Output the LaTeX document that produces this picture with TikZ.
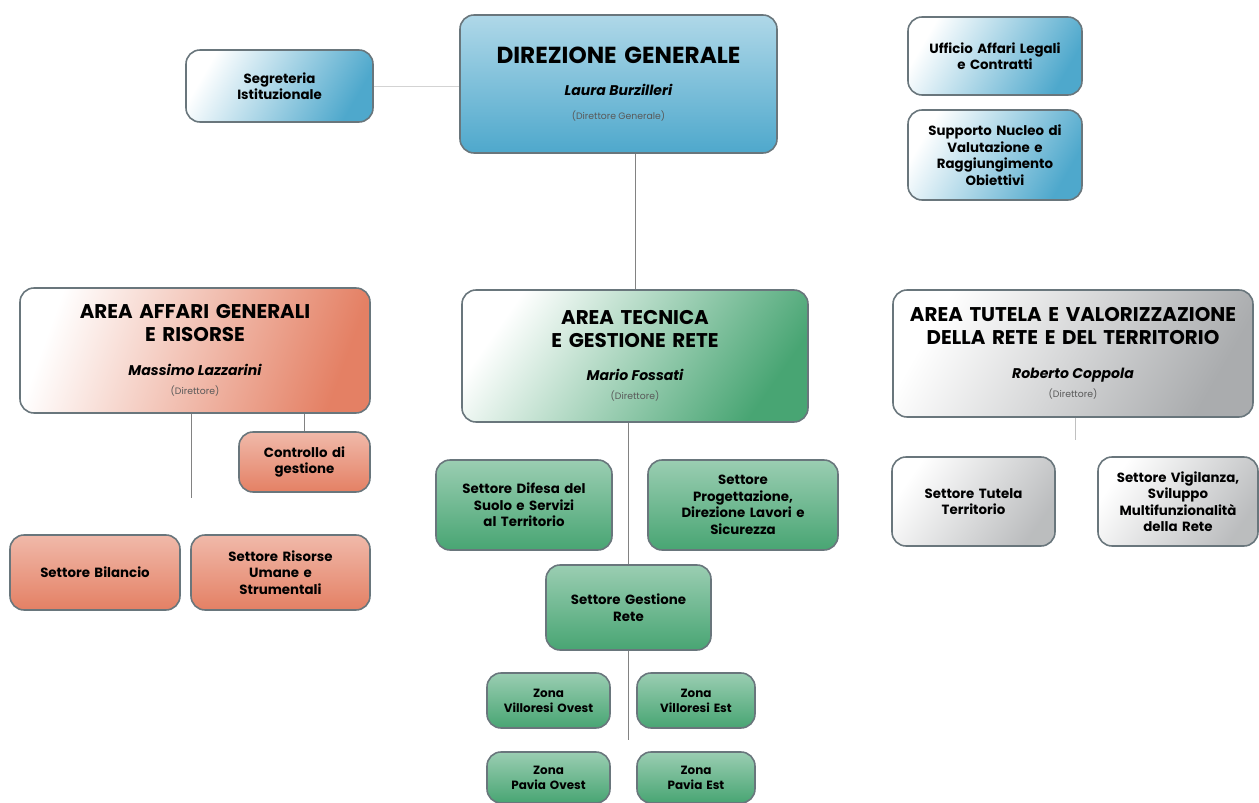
\documentclass[tikz,border=0pt]{standalone}
\usepackage{fontspec}
\setmainfont{Poppins}
\usetikzlibrary{calc}
\usetikzlibrary{positioning}
\definecolor{boxline}{RGB}{105,118,124}
\definecolor{linegray}{RGB}{130,130,130}
\definecolor{dgblue}{RGB}{78,168,204}
\definecolor{aagred}{RGB}{228,128,100}
\definecolor{atgreen}{RGB}{72,165,115}
\definecolor{atgray}{RGB}{170,172,174}
\tikzstyle{box} = [draw=boxline, line width=0.9pt, rounded corners=8pt, align=center, inner sep=2pt, text=black, font=\fontsize{7.6}{9.4}\selectfont\bfseries]
\tikzstyle{areabox} = [box, font=\fontsize{11.3}{13}\selectfont\bfseries]
\tikzstyle{zonebox} = [box, font=\fontsize{6.8}{8.6}\selectfont\bfseries]
\tikzstyle{link} = [draw=linegray, line width=0.5pt]
\tikzstyle{bluebox} = [left color=white, right color=dgblue, shading angle=60]
\tikzstyle{dgbox} = [top color=dgblue!45!white, bottom color=dgblue]
\tikzstyle{redarea} = [left color=white, right color=aagred, shading angle=70]
\tikzstyle{redbox} = [top color=aagred!55!white, bottom color=aagred]
\tikzstyle{greenarea} = [left color=white, right color=atgreen, shading angle=55]
\tikzstyle{greenbox} = [top color=atgreen!55!white, bottom color=atgreen]
\tikzstyle{grayarea} = [left color=white, right color=atgray, shading angle=60]
\tikzstyle{graybox} = [left color=white, right color=atgray!80, shading angle=55]
\tikzset{sz/.style 2 args={minimum width=#1*0.02cm, minimum height=#2*0.02cm, text width=#1*0.02cm-8pt}}
\newcommand{\chiname}[1]{{\fontsize{8}{10}\selectfont\itshape\spaceskip=0.24em\relax #1}}
\newcommand{\chirole}[1]{{\fontsize{5.3}{6}\selectfont\mdseries\spaceskip=0.24em\relax\color{black!65}#1}}

\begin{document}
\begin{tikzpicture}[x=0.02cm, y=-0.02cm]
  \fill[white] (0,0) rectangle (1259,803);
  \useasboundingbox (0,0) rectangle (1259,803);

  % vertice
  \node[box, dgbox, sz={317}{138}, font=\fontsize{13.2}{16}\selectfont\bfseries] (dg) at (618.5,84)
    {DIREZIONE GENERALE\\[2.5pt]
     \chiname{Laura Burzilleri}\\[-2.5pt] \chirole{(Direttore Generale)}};
  \node[box, bluebox, sz={187}{72}] (segr) at (279.5,86) {Segreteria\\Istituzionale};
  \node[box, bluebox, sz={174}{78}] (legali) at (995,56) {Ufficio Affari Legali\\e Contratti};
  \node[box, bluebox, sz={174}{90}] (nucleo) at (995,155)
    {Supporto Nucleo di\\Valutazione e\\Raggiungimento\\Obiettivi};

  % aree
  \node[areabox, redarea, sz={350}{125}] (aag) at (195,350.5)
    {AREA AFFARI GENERALI\\E RISORSE\\[6pt]
     \chiname{Massimo Lazzarini}\\[-2pt] \chirole{(Direttore)}};
  \node[areabox, greenarea, sz={346}{132}] (atec) at (635,356)
    {AREA TECNICA\\E GESTIONE RETE\\[6pt]
     \chiname{Mario Fossati}\\[-2pt] \chirole{(Direttore)}};
  \node[areabox, grayarea, sz={360}{127}] (atut) at (1073,353.5)
    {AREA TUTELA E VALORIZZAZIONE\\DELLA RETE E DEL TERRITORIO\\[6pt]
     \chiname{Roberto Coppola}\\[-2pt] \chirole{(Direttore)}};

  % area affari generali
  \node[box, redbox, sz={131}{60}] (ctrl) at (304.5,462) {Controllo di\\gestione};
  \node[box, redbox, sz={170}{75}] (bil) at (95,572.5) {Settore Bilancio};
  \node[box, redbox, sz={179}{75}] (risu) at (280.5,572.5) {Settore Risorse\\Umane e\\Strumentali};

  % area tecnica
  \node[box, greenbox, sz={176}{90}] (difesa) at (524,505)
    {Settore Difesa del\\Suolo e Servizi\\al Territorio};
  \node[box, greenbox, sz={190}{90}] (prog) at (743,505)
    {Settore\\Progettazione,\\Direzione Lavori e\\Sicurezza};
  \node[box, greenbox, sz={165}{85}] (gest) at (628.5,607.5) {Settore Gestione\\Rete};
  \node[zonebox, greenbox, sz={123}{55}] (zvo) at (548.5,700.5) {Zona\\Villoresi Ovest};
  \node[zonebox, greenbox, sz={118}{55}] (zve) at (696,700.5) {Zona\\Villoresi Est};
  \node[zonebox, greenbox, sz={123}{51}] (zpo) at (548.5,777.5) {Zona\\Pavia Ovest};
  \node[zonebox, greenbox, sz={118}{51}] (zpe) at (696,777.5) {Zona\\Pavia Est};

  % area tutela
  \node[box, graybox, sz={163}{89}] (tut) at (973.5,501.5) {Settore Tutela\\Territorio};
  \node[box, graybox, sz={160}{89}] (vig) at (1178,501.5)
    {Settore Vigilanza,\\Sviluppo\\Multifunzionalit\`a\\della Rete};

  % collegamenti
  \coordinate (aagend) at (191,498);
  \coordinate (atutend) at (1075,440);
  \coordinate (zoneend) at ($(zvo.south)!0.5!(zpo.north)$);
  \draw[link, draw=linegray!35] (segr.east) -- (segr.east -| dg.west);
  \draw[link] (atec.north) -- (atec.north |- dg.south);
  \draw[link] (gest.north) -- (gest.north |- atec.south);
  \draw[link] (gest.south) -- (gest.south |- zoneend);
  \draw[link] (aagend) -- (aagend |- aag.south);
  \draw[link] (ctrl.north) -- (ctrl.north |- aag.south);
  \draw[link, draw=linegray!50] (atutend) -- (atutend |- atut.south);
\end{tikzpicture}
\end{document}
